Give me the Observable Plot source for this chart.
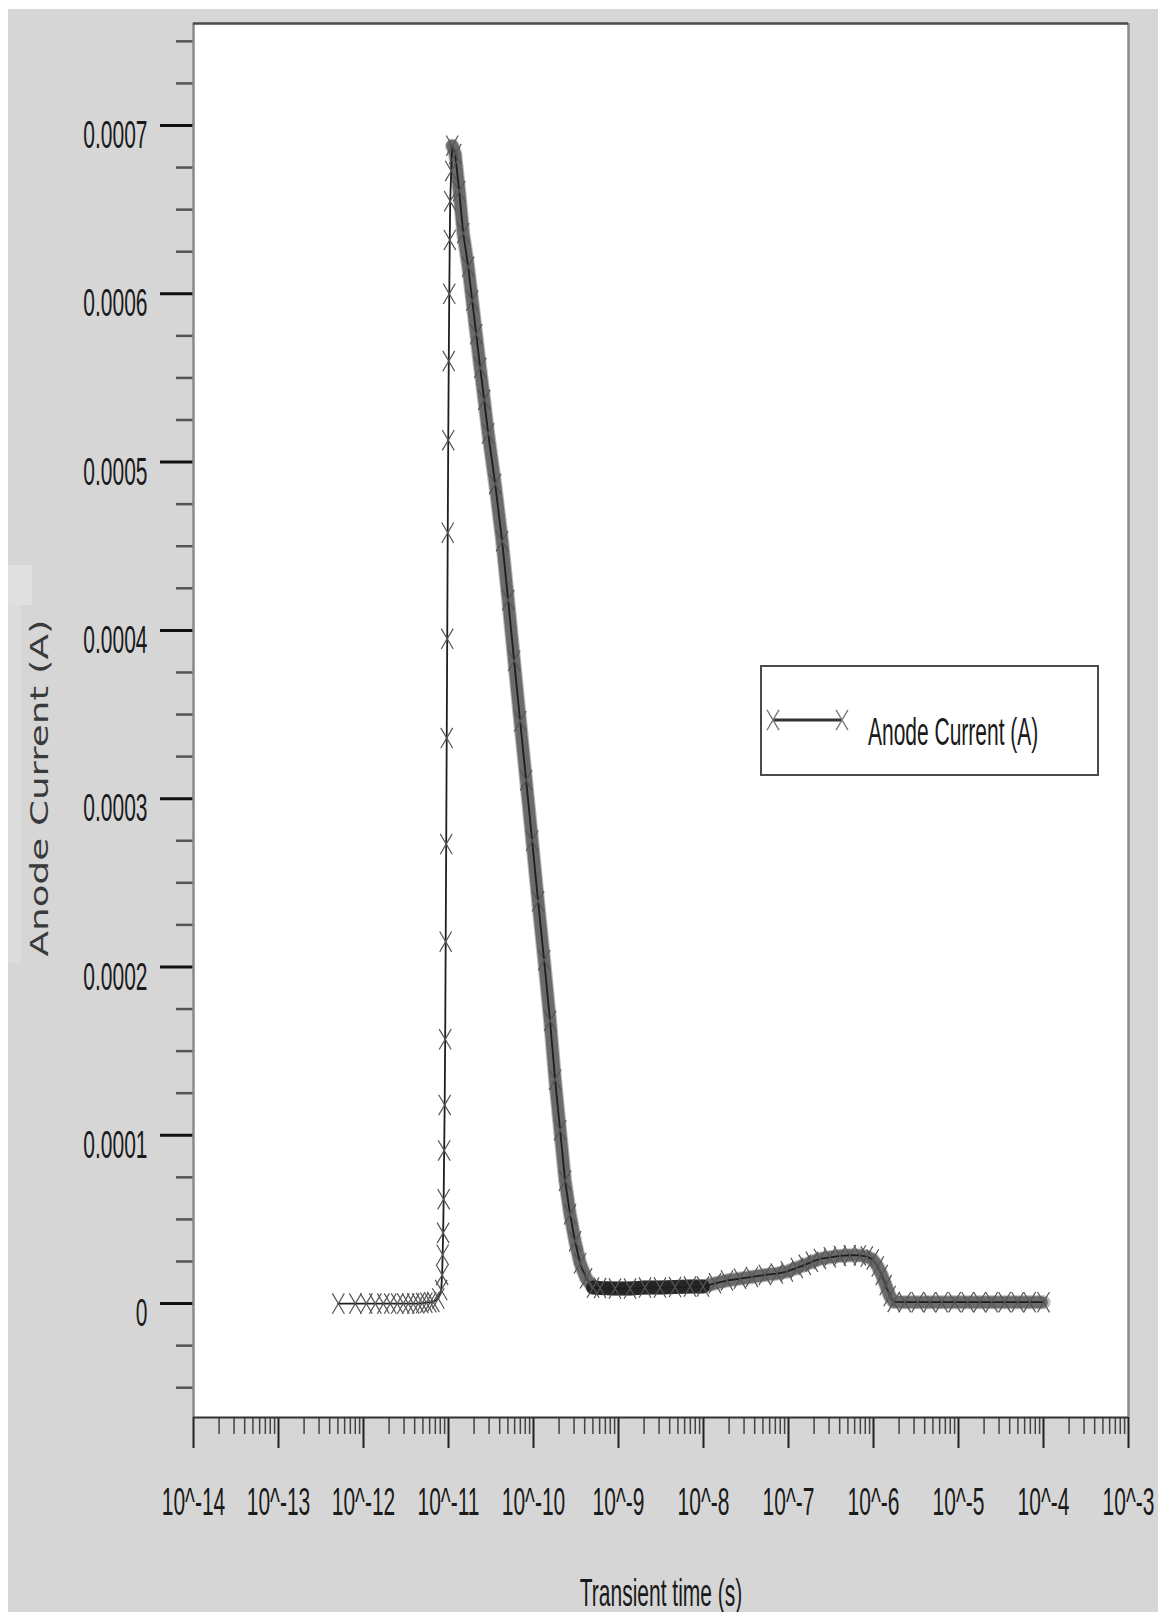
<!DOCTYPE html>
<html><head><meta charset="utf-8">
<script src="https://cdn.jsdelivr.net/npm/d3@7"></script>
<script src="https://cdn.jsdelivr.net/npm/@observablehq/plot@0.6"></script>
<style>
html,body{margin:0;padding:0;background:#fff;}
#wrap{position:absolute;left:8px;top:9px;}
</style></head><body><div id="wrap"></div>
<script>
// ---- data (log10 of transient time in s, anode current in A) ----
const timeExp = [
  -12.296,-12.096,-11.967,-11.861,-11.767,-11.685,-11.603,-11.532,-11.473,-11.415,-11.356,-11.309,-11.261,-11.215,-11.179,
  -11.120,-11.086,-11.075,-11.069,-11.063,-11.057,-11.051,-11.045,-11.039,-11.033,-11.027,-11.021,-11.015,-11.009,-11.003,-10.997,-10.991,-10.985,-10.980,-10.968,-10.956,
  -10.921,-10.874,-10.827,-10.768,-10.721,-10.674,-10.627,-10.580,-10.533,-10.451,-10.369,-10.298,-10.228,-10.157,-10.087,-10.016,-9.946,-9.875,-9.805,-9.746,-9.687,-9.628,-9.570,-9.511,-9.452,-9.381,-9.299,
  -9.217,-9.041,-8.864,-8.688,-8.512,-8.335,-8.159,-8.006,-7.865,-7.724,-7.571,-7.430,-7.278,-7.137,-7.019,-6.902,-6.808,-6.725,-6.631,-6.514,-6.396,-6.279,-6.161,-6.079,-6.009,-5.950,-5.903,-5.856,-5.809,-5.762,
  -5.632,-5.480,-5.339,-5.198,-5.045,-4.892,-4.751,-4.610,-4.457,-4.304,-4.163,-4.000
];
const current = [
  0,0,0,0,0,0,0,0,0,0,0,0.0000003,0.0000005,0.0000008,0.000001,
  0.000003,0.000008,0.000017,0.000029,0.000042,0.000062,0.000091,0.000118,0.000157,0.000215,0.000273,0.000336,0.000395,0.000458,0.000513,0.000560,0.000600,0.000632,0.000655,0.000673,0.000688,
  0.000683,0.000661,0.000636,0.000616,0.000596,0.000576,0.000556,0.000537,0.000517,0.000487,0.000453,0.000418,0.000382,0.000346,0.000311,0.000275,0.000239,0.000204,0.000168,0.000133,0.000103,0.000073,0.000053,0.000037,0.000024,0.000015,0.0000095,
  0.0000092,0.0000089,0.0000089,0.0000095,0.0000095,0.0000098,0.0000101,0.0000101,0.000012,0.0000137,0.0000148,0.0000158,0.000017,0.0000178,0.000019,0.0000212,0.000023,0.0000248,0.0000265,0.0000275,0.0000283,0.0000287,0.0000286,0.0000279,0.0000262,0.000022,0.000017,0.000011,0.0000045,0.000001,
  0.0000008,0.0000008,0.0000008,0.0000008,0.0000008,0.0000008,0.0000008,0.0000008,0.0000008,0.0000008,0.0000008,0.0000008
];
const seriesName = "Anode Current (A)";
const xTitle = "Transient time (s)";
const yTitle = "Anode Current (A)";
const xDomain = [1e-14, 1e-3];
const yDomain = [-0.0000677, 0.0007606];
const xMajor = [1e-14,1e-13,1e-12,1e-11,1e-10,1e-9,1e-8,1e-7,1e-6,1e-5,1e-4,1e-3];
const xTickLabels = ["10^-14","10^-13","10^-12","10^-11","10^-10","10^-9","10^-8","10^-7","10^-6","10^-5","10^-4","10^-3"];
const yMajor = [0,0.0001,0.0002,0.0003,0.0004,0.0005,0.0006,0.0007];
const yTickLabels = ["0","0.0001","0.0002","0.0003","0.0004","0.0005","0.0006","0.0007"];
const yMinor = [-0.00005,-0.000025,0.000025,0.00005,0.000075,0.000125,0.00015,0.000175,0.000225,0.00025,0.000275,
  0.000325,0.00035,0.000375,0.000425,0.00045,0.000475,0.000525,0.00055,0.000575,0.000625,0.00065,0.000675,0.000725,0.00075];
const minorMultipliers = [2,3,4,5,6,7,8,9];

// ---- build ----
const xMinor = [];
xMajor.slice(0, -1).forEach(d => minorMultipliers.forEach(k => xMinor.push(k * d)));
const rows = timeExp.map((e, i) => ({t: Math.pow(10, e), v: current[i]}));
const peakT = rows[d3.maxIndex(rows, d => d.v)].t;
const dense = rows.filter(d => d.t >= peakT);
const solid = rows.filter(d => d.t >= 4.5e-10 && d.t <= 1e-8);

const xSym = {draw(ctx, size) {
  const r = Math.sqrt(size / Math.PI), w = r, h = r * 1.7;
  ctx.moveTo(-w, -h); ctx.lineTo(w, h); ctx.moveTo(w, -h); ctx.lineTo(-w, h);
}};

const W = 1150, H = 1603, ML = 185, MT = 14, MR = 30, MB = 195;
const font = "'Liberation Sans', Arial, sans-serif";

const chart = Plot.plot({
  width: W, height: H, marginLeft: ML, marginTop: MT, marginRight: MR, marginBottom: MB,
  style: {background: "#d6d6d6", fontFamily: font, fontSize: "21px", color: "#1a1a1a", overflow: "visible"},
  x: {type: "log", domain: xDomain, label: null},
  y: {domain: yDomain, label: null},
  marks: [
    Plot.frame({fill: "white", stroke: null}),
    Plot.axisY(yMinor, {tickSize: 17, tickFormat: () => "", stroke: "#555", strokeWidth: 2.5}),
    Plot.axisY(yMajor, {tickSize: 33, tickFormat: () => "", stroke: "#111", strokeWidth: 3}),
    Plot.axisX(xMinor, {tickSize: 17, tickFormat: () => "", stroke: "#444", strokeWidth: 1.5}),
    Plot.axisX(xMajor, {tickSize: 31, tickFormat: () => "", stroke: "#222", strokeWidth: 2}),
    Plot.ruleX([xDomain[0]], {stroke: "#8a8a8a", strokeWidth: 2.5}),
    Plot.ruleX([xDomain[1]], {stroke: "#8a8a8a", strokeWidth: 2.5}),
    Plot.ruleY([yDomain[1]], {stroke: "#4a4a4a", strokeWidth: 2.5}),
    Plot.ruleY([yDomain[0]], {stroke: "#333", strokeWidth: 2}),
    Plot.text(yMajor, {y: d => d, text: (d, i) => yTickLabels[i], frameAnchor: "left", textAnchor: "end", lineAnchor: "middle", dx: -46, dy: 10, fill: "#1a1a1a"}),
    Plot.text(xMajor, {x: d => d, text: (d, i) => xTickLabels[i], frameAnchor: "bottom", lineAnchor: "middle", dy: 85, fill: "#1a1a1a"}),
    Plot.text([xTitle], {frameAnchor: "bottom", lineAnchor: "middle", dy: 176, fill: "#1a1a1a"}),
    Plot.line(dense, {x: "t", y: "v", stroke: "#8c8c8c", strokeWidth: 14, strokeOpacity: 0.6, strokeLinejoin: "round", strokeLinecap: "round"}),
    Plot.line(dense, {x: "t", y: "v", stroke: "#2a2a2a", strokeWidth: 12, strokeOpacity: 0.55, strokeDasharray: "1.5,2.5"}),
    Plot.line(solid, {x: "t", y: "v", stroke: "#1e1e1e", strokeWidth: 14, strokeOpacity: 0.9}),
    Plot.line(rows, {x: "t", y: "v", stroke: "#1e1e1e", strokeWidth: 1.8}),
    Plot.dot(rows, {x: "t", y: "v", symbol: xSym, r: 6, stroke: "#555", strokeWidth: 1.2, fill: "none"})
  ]
});
document.getElementById("wrap").appendChild(chart);

// stretch horizontal texts vertically (tall condensed look of the original)
const SY = 1.87;
function stretch(el) {
  let t = el.getAttribute("transform") || "";
  const x = el.getAttribute("x"), y = el.getAttribute("y");
  if (x != null && !/em/.test(x)) { t += ` translate(${x},0)`; el.removeAttribute("x"); }
  if (y != null && !/em/.test(y)) { t += ` translate(0,${y})`; el.removeAttribute("y"); }
  el.setAttribute("transform", (t + ` scale(1,${SY})`).trim());
}
const svg = d3.select(chart);
svg.selectAll("text").each(function() {
  if (this.textContent !== "") stretch(this);
});

// light patch behind the y title
svg.insert("rect", ":first-child").attr("x", 0).attr("y", 596).attr("width", 14).attr("height", 358).attr("fill", "#dcdcdc");
svg.insert("rect", ":first-child").attr("x", 0).attr("y", 556).attr("width", 24).attr("height", 40).attr("fill", "#e0e0e0");
svg.insert("rect", ":first-child").attr("width", W).attr("height", H).attr("fill", "#d6d6d6");

// y title (rotated, long-stretched like the original)
svg.append("text").attr("transform", "translate(32,947.5) rotate(-90)")
  .attr("text-anchor", "start").attr("y", "0.35em")
  .attr("textLength", 337).attr("lengthAdjust", "spacingAndGlyphs")
  .attr("font-family", "'DejaVu Sans', Verdana, sans-serif").attr("font-size", 24)
  .attr("fill", "#3a3a3a").text(yTitle);

// legend
const lg = svg.append("g");
lg.append("rect").attr("x", 753).attr("y", 657).attr("width", 337).attr("height", 109)
  .attr("fill", "white").attr("stroke", "#4a4a4a").attr("stroke-width", 2);
lg.append("line").attr("x1", 765).attr("x2", 834).attr("y1", 711).attr("y2", 711)
  .attr("stroke", "#333").attr("stroke-width", 3);
[765, 834].forEach(cx => {
  const p = d3.path(); xSym.draw(p, Math.PI * 36);
  lg.append("path").attr("d", p.toString()).attr("transform", `translate(${cx},711)`)
    .attr("fill", "none").attr("stroke", "#777").attr("stroke-width", 1.3);
});
lg.append("text").attr("text-anchor", "start").attr("y", "0.32em").attr("transform", `translate(860,723) scale(1,${SY})`)
  .attr("font-family", font).attr("font-size", 21).attr("fill", "#1a1a1a").text(seriesName);
</script>
</body></html>
